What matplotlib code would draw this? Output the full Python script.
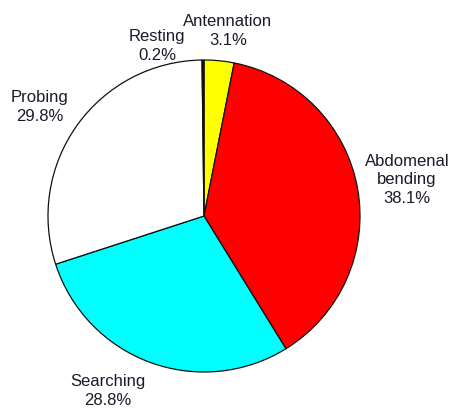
import matplotlib
matplotlib.use("Agg")
import matplotlib.pyplot as plt

categories = ["Antennation", "Abdomenal\nbending", "Searching", "Probing", "Resting"]
values = [3.1, 38.1, 28.8, 29.8, 0.2]
colors = ["#FFFF00", "#FF0000", "#00FFFF", "#FFFFFF", "#3a0000"]

# label positions (pixels, top-left origin)
label_pos = [(228, 31), (407, 180), (108, 391), (40, 107), (157, 46)]

W, H = 452, 409
fig = plt.figure(figsize=(W / 100, H / 100), dpi=100)
ax = fig.add_axes([0, 0, 1, 1])

cx, cy, r = 204, H - 216, 156
ax.pie(values, colors=colors, startangle=90, counterclock=False,
       center=(cx, cy), radius=r, frame=True,
       wedgeprops=dict(edgecolor="#111111", linewidth=0.9))
ax.set_xlim(0, W)
ax.set_ylim(0, H)
ax.set_aspect("equal")
ax.axis("off")

for cat, v, (x, y) in zip(categories, values, label_pos):
    ax.text(x, H - y, f"{cat}\n{v:.1f}%", ha="center", va="center",
            fontsize=12, family="Liberation Sans", color="#1a1a2a",
            linespacing=1.3)

fig.savefig("out.png", dpi=100)
